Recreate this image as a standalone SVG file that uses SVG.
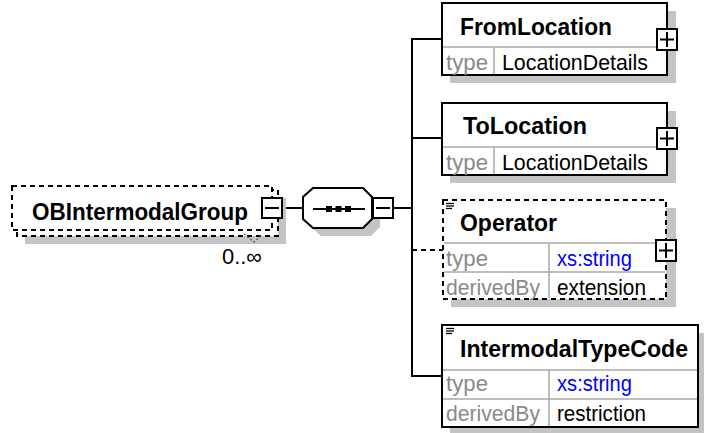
<svg xmlns="http://www.w3.org/2000/svg" width="704" height="433" viewBox="0 0 704 433">
<style>
.ln{stroke:#000;stroke-width:2;fill:none}
.box{fill:#fff;stroke:#000;stroke-width:2}
.dash{stroke-dasharray:5,4}
.shadow{fill:#c4c4c4;stroke:none}
.sep{stroke:#a8a8a8;stroke-width:1.5}
.t{font-family:"Liberation Sans",Arial,sans-serif}
.title{font-weight:bold;font-size:23.5px;fill:#000}
.lbl{font-size:21.5px;fill:#8a8a8a}
.val{font-size:21.5px;fill:#000}
.blue{fill:#0000ff}
.icon{stroke:#000;stroke-width:1.3}
</style>
<rect width="704" height="433" fill="#fff"/>
<g id="connectors">
  <line class="ln" x1="282" y1="208" x2="303" y2="208"/>
  <line class="ln" x1="393" y1="208" x2="412" y2="208"/>
  <line class="ln" x1="412" y1="38" x2="412" y2="377"/>
  <line class="ln" x1="412" y1="39" x2="442" y2="39"/>
  <line class="ln" x1="412" y1="138" x2="442" y2="138"/>
  <line class="ln dash" x1="412" y1="250" x2="443" y2="250"/>
  <line class="ln" x1="412" y1="376" x2="442" y2="376"/>
</g>
<g id="OBIntermodalGroup">
  <rect class="shadow" x="25" y="198" width="261" height="46"/>
  <rect class="box dash" x="17" y="190" width="261" height="46"/>
  <rect class="box dash" x="12" y="186" width="260" height="44"/>
  <text class="t title" x="32" y="220" textLength="216" lengthAdjust="spacingAndGlyphs">OBIntermodalGroup</text>
  <rect class="box" x="262" y="198" width="20" height="20"/>
  <line class="ln" x1="265" y1="208" x2="279" y2="208"/>
  <polyline points="244,234 254,242 261,236" fill="none" stroke="#555" stroke-width="1.2" stroke-dasharray="2,2"/>
  <text class="t val" x="222" y="264" font-size="21" textLength="40" lengthAdjust="spacingAndGlyphs">0..∞</text>
</g>
<g id="sequence">
  <polygon class="shadow" points="321,196 371,196 380,205 380,227 371,236 321,236 311,227 311,205"/>
  <polygon class="box" points="313,188 363,188 372,197 372,219 363,228 313,228 303,219 303,197"/>
  <line class="ln" x1="313" y1="209" x2="365" y2="209"/>
  <rect x="326" y="206" width="6" height="6" fill="#000"/>
  <rect x="335.5" y="206" width="6" height="6" fill="#000"/>
  <rect x="345" y="206" width="6" height="6" fill="#000"/>
  <rect class="box" x="373" y="198" width="20" height="20"/>
  <line class="ln" x1="376" y1="208" x2="390" y2="208"/>
</g>
<g id="FromLocation">
  <rect class="shadow" x="450" y="11" width="226" height="72"/>
  <rect class="box" x="442" y="3" width="225" height="72"/>
  <line class="sep" x1="443" y1="47" x2="666" y2="47"/>
  <line class="sep" x1="494" y1="47" x2="494" y2="74"/>
  <text class="t title" x="460" y="35" textLength="152" lengthAdjust="spacingAndGlyphs">FromLocation</text>
  <text class="t lbl" x="446" y="70" textLength="42" lengthAdjust="spacingAndGlyphs">type</text>
  <text class="t val" x="502" y="70" textLength="146" lengthAdjust="spacingAndGlyphs">LocationDetails</text>
  <rect class="box" x="657" y="29" width="20" height="21"/>
  <line class="ln" x1="660" y1="39.5" x2="674" y2="39.5"/>
  <line class="ln" x1="667" y1="32" x2="667" y2="47"/>
</g>
<g id="ToLocation">
  <rect class="shadow" x="450" y="111" width="226" height="72"/>
  <rect class="box" x="442" y="103" width="225" height="72"/>
  <line class="sep" x1="443" y1="147" x2="666" y2="147"/>
  <line class="sep" x1="494" y1="147" x2="494" y2="174"/>
  <text class="t title" x="463" y="134" textLength="124" lengthAdjust="spacingAndGlyphs">ToLocation</text>
  <text class="t lbl" x="446" y="170" textLength="42" lengthAdjust="spacingAndGlyphs">type</text>
  <text class="t val" x="502" y="170" textLength="146" lengthAdjust="spacingAndGlyphs">LocationDetails</text>
  <rect class="box" x="657" y="128" width="20" height="21"/>
  <line class="ln" x1="660" y1="138.5" x2="674" y2="138.5"/>
  <line class="ln" x1="667" y1="131" x2="667" y2="146"/>
</g>
<g id="Operator">
  <rect class="shadow" x="451" y="208" width="225" height="99"/>
  <rect class="box dash" x="443" y="200" width="223" height="99"/>
  <line class="sep" x1="444" y1="243" x2="665" y2="243"/>
  <line class="sep" x1="444" y1="272" x2="665" y2="272"/>
  <line class="sep" x1="549" y1="243" x2="549" y2="298"/>
  <line class="icon" x1="446" y1="203.5" x2="454" y2="203.5"/>
  <line class="icon" x1="446" y1="206" x2="454" y2="206"/>
  <line class="icon" x1="446" y1="208.5" x2="452" y2="208.5"/>
  <text class="t title" x="460" y="231" textLength="97" lengthAdjust="spacingAndGlyphs">Operator</text>
  <text class="t lbl" x="446" y="266" textLength="42" lengthAdjust="spacingAndGlyphs">type</text>
  <text class="t val blue" x="557" y="266" textLength="75" lengthAdjust="spacingAndGlyphs">xs:string</text>
  <text class="t lbl" x="446" y="295" textLength="94" lengthAdjust="spacingAndGlyphs">derivedBy</text>
  <text class="t val" x="557" y="295" textLength="89" lengthAdjust="spacingAndGlyphs">extension</text>
  <rect class="box" x="656" y="240" width="20" height="21"/>
  <line class="ln" x1="659" y1="250.5" x2="673" y2="250.5"/>
  <line class="ln" x1="666" y1="243" x2="666" y2="258"/>
</g>
<g id="IntermodalTypeCode">
  <rect class="shadow" x="450" y="333" width="256" height="102"/>
  <rect class="box" x="442" y="325" width="256" height="102"/>
  <line class="sep" x1="443" y1="370" x2="697" y2="370"/>
  <line class="sep" x1="443" y1="399" x2="697" y2="399"/>
  <line class="sep" x1="549" y1="370" x2="549" y2="426"/>
  <line class="icon" x1="446" y1="328.5" x2="454" y2="328.5"/>
  <line class="icon" x1="446" y1="331" x2="454" y2="331"/>
  <line class="icon" x1="446" y1="333.5" x2="452" y2="333.5"/>
  <text class="t title" x="460" y="357" textLength="228" lengthAdjust="spacingAndGlyphs">IntermodalTypeCode</text>
  <text class="t lbl" x="446" y="391" textLength="42" lengthAdjust="spacingAndGlyphs">type</text>
  <text class="t val blue" x="557" y="391" textLength="75" lengthAdjust="spacingAndGlyphs">xs:string</text>
  <text class="t lbl" x="446" y="421" textLength="94" lengthAdjust="spacingAndGlyphs">derivedBy</text>
  <text class="t val" x="557" y="421" textLength="89" lengthAdjust="spacingAndGlyphs">restriction</text>
</g>
</svg>
